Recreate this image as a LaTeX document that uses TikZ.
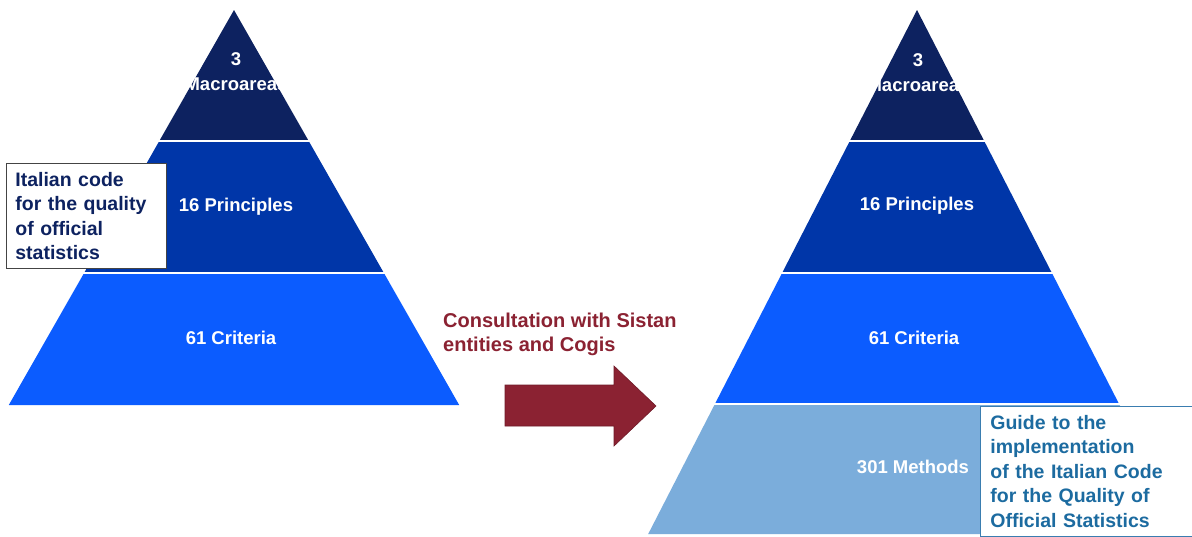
\documentclass[tikz,border=0pt]{standalone}
\usepackage{fontspec}
\setmainfont{Liberation Sans}
\usepackage{tikz}
\usetikzlibrary{positioning}
\definecolor{cNavy}{HTML}{0D2260}
\definecolor{cMid}{HTML}{0036A8}
\definecolor{cBright}{HTML}{0B5CFF}
\definecolor{cPale}{HTML}{7BADDB}
\definecolor{cWine}{HTML}{8B2232}
\definecolor{cGuide}{HTML}{1C6BA0}
\definecolor{cEdge}{HTML}{3A7DB0}
\definecolor{cFrame}{HTML}{444444}
\tikzset{
  lvl/.style={font=\fontsize{18.5}{25}\selectfont\bfseries, text=white,
              align=center, inner sep=0pt},
  note/.style={font=\fontsize{19.5}{24.4}\selectfont\bfseries, align=left,
               anchor=north west},
  gap/.style={white, line width=2pt}
}

\begin{document}
\begin{tikzpicture}[x=1pt, y=-1pt]
\useasboundingbox (0,0) rectangle (1192,536);
\fill[white] (0,0) rectangle (1192,536);
% left pyramid
\fill[cNavy] (234,10) -- (308.7,141) -- (159.3,141) -- cycle;
\fill[cMid] (159.3,141) -- (308.7,141) -- (383.9,273) -- (84.1,273) -- cycle;
\fill[cBright] (84.1,273) -- (383.9,273) -- (459.2,405) -- (8.8,405) -- cycle;
\draw[gap] (150,141) -- (320,141) (75,273) -- (395,273);
\node[lvl] (lTop) at (236,72) {3\\Macroareas};
\node[lvl] (lMid) at (236,207) {16 Principles};
\node[lvl] (lLow) at (231,338) {61 Criteria};
\node[note, draw=cFrame, line width=0.8pt, fill=white, text=cNavy,
      minimum width=160, minimum height=105, text width=142, inner xsep=9]
  (lCode) at (6,163) {Italian code\\for the quality\\of official\\statistics};
% arrow in between
\node[note, text=cWine, font=\fontsize{20}{24}\selectfont\bfseries, inner sep=0pt]
  (consult) at (443,313) {Consultation with Sistan\\entities and Cogis};
\filldraw[fill=cWine, draw=cWine!80!black, line width=0.6pt]
  (505,385) -- (614,385) -- (614,366) -- (656,406) -- (614,446) -- (614,426)
  -- (505,426) -- cycle;
% right pyramid
\fill[cNavy] (917,10) -- (984.2,141) -- (849.8,141) -- cycle;
\fill[cMid] (849.8,141) -- (984.2,141) -- (1051.9,273) -- (782.1,273) -- cycle;
\fill[cBright] (782.1,273) -- (1051.9,273) -- (1119.1,404) -- (714.9,404) -- cycle;
\fill[cPale] (714.9,404) -- (1119.1,404) -- (1185.8,534) -- (648.2,534) -- cycle;
\draw[gap] (840,141) -- (995,141) (770,273) -- (1065,273) (700,404) -- (1135,404);
\node[lvl] (rTop) at (918,73) {3\\Macroareas};
\node[lvl] (rMid) at (917,206) {16 Principles};
\node[lvl] (rLow) at (914,338) {61 Criteria};
\node[lvl] (rBase) at (913,467) {301 Methods};
\node[note, draw=cEdge, line width=0.8pt, fill=white, text=cGuide,
      text width=205, inner xsep=10, inner ysep=9]
  (rGuide) at (980,406) {Guide to the\\implementation\\of the Italian Code\\for the Quality of\\Official Statistics};
\end{tikzpicture}
\end{document}
